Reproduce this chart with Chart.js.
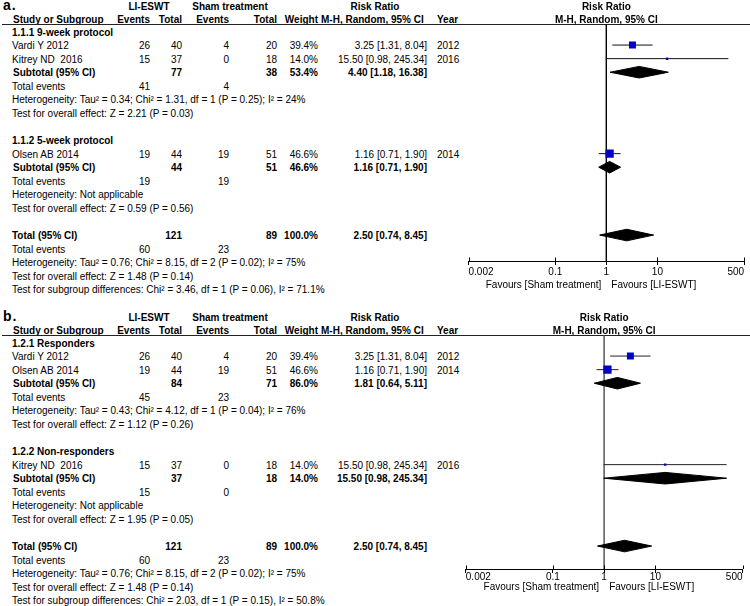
<!DOCTYPE html>
<html>
<head>
<meta charset="utf-8">
<title>Forest plot - LI-ESWT vs sham</title>
<script src="https://cdn.jsdelivr.net/npm/chart.js@4.4.1/dist/chart.umd.min.js"></script>
<style>
  html, body { margin: 0; padding: 0; background: #fff; }
  body {
    width: 750px; height: 606px; position: relative; overflow: hidden;
    font-family: "Liberation Sans", Arial, Helvetica, sans-serif; font-size: 10px; color: #000;
  }
  .panel { position: absolute; left: 0; width: 750px; height: 300px; }
  .c { position: absolute; white-space: pre; line-height: 12px; }
  .b { font-weight: bold; }
  .r { transform: translateX(-100%); }
  .m { transform: translateX(-50%); }
  .tag { font-size: 14px; font-weight: bold; line-height: 14px; letter-spacing: 1px; }
  .rule { position: absolute; left: 2px; width: 748px; height: 1px; background: #222; }
  .panel canvas { position: absolute; }
</style>
</head>
<body>
<div id="panelA" class="panel" style="top:0"></div>
<div id="panelB" class="panel" style="top:311px"></div>
<script>
// ==================== DATA ====================
const studyNames   = ['Vardi Y 2012', 'Kitrey ND  2016', 'Olsen AB 2014'];
const studyYears   = [2012, 2016, 2014];
const eswtEvents   = [26, 15, 19];
const eswtTotals   = [40, 37, 44];
const shamEvents   = [4, 0, 19];
const shamTotals   = [20, 18, 51];
const studyWeights = [39.4, 14.0, 46.6];
const studyRR      = [3.25, 15.50, 1.16];
const studyLow     = [1.31, 0.98, 0.71];
const studyHigh    = [8.04, 245.34, 1.90];

// a. by protocol length
const groupNamesA   = ['1.1.1 9-week protocol', '1.1.2 5-week protocol'];
const groupStudiesA = [[0, 1], [2]];
const subRRA   = [4.40, 1.16];
const subLowA  = [1.18, 0.71];
const subHighA = [16.38, 1.90];
const subHetA  = ['Tau² = 0.34; Chi² = 1.31, df = 1 (P = 0.25); I² = 24%', 'Not applicable'];
const subZA    = ['Z = 2.21 (P = 0.03)', 'Z = 0.59 (P = 0.56)'];
const subDiffA = 'Chi² = 3.46, df = 1 (P = 0.06), I² = 71.1%';

// b. responders / non-responders
const groupNamesB   = ['1.2.1 Responders', '1.2.2 Non-responders'];
const groupStudiesB = [[0, 2], [1]];
const subRRB   = [1.81, 15.50];
const subLowB  = [0.64, 0.98];
const subHighB = [5.11, 245.34];
const subHetB  = ['Tau² = 0.43; Chi² = 4.12, df = 1 (P = 0.04); I² = 76%', 'Not applicable'];
const subZB    = ['Z = 1.12 (P = 0.26)', 'Z = 1.95 (P = 0.05)'];
const subDiffB = 'Chi² = 2.03, df = 1 (P = 0.15), I² = 50.8%';

// overall
const totalRR = 2.50, totalLow = 0.74, totalHigh = 8.45;
const totalHet = 'Tau² = 0.76; Chi² = 8.15, df = 2 (P = 0.02); I² = 75%';
const totalZ = 'Z = 1.48 (P = 0.14)';

const xTicks      = [0.002, 0.1, 1, 10, 500];
const xTickLabels = ['0.002', '0.1', '1', '10', '500'];

// ==================== LAYOUT ====================
const FONT = '"Liberation Sans", Arial, Helvetica, sans-serif';
const RULE_Y = 24.5;      // header rule
const ROW0 = 32.5;        // text centre of first row
const ROWH = 13.57;
const MARK_Y0 = ROW0 - 1; // markers sit a touch above the text
const DIAMOND_H = 5.8 / ROWH;
const CANVAS_X = 440, CANVAS_W = 310;
const BLUE = '#0000cd';
const COL = { name: 12, evE: 150, totE: 182, evS: 229, totS: 277, weight: 318, rr: 427, year: 437 };

const panels = [
  { el: 'panelA', tag: 'a.', groupNames: groupNamesA, groupStudies: groupStudiesA,
    subRR: subRRA, subLow: subLowA, subHigh: subHighA, subHet: subHetA, subZ: subZA, subDiff: subDiffA,
    plotLeft: 468.5, plotRight: 745.7, axisY: 261, tickPad: 1, favY: 285, nullColor: '#000', ciColor: '#111' },
  { el: 'panelB', tag: 'b.', groupNames: groupNamesB, groupStudies: groupStudiesB,
    subRR: subRRB, subLow: subLowB, subHigh: subHighB, subHet: subHetB, subZ: subZB, subDiff: subDiffB,
    plotLeft: 465.8, plotRight: 742.5, axisY: 258, tickPad: -2, favY: 276, nullColor: '#6a6a6a', ciColor: '#222' }
];

const fmtRR = (rr, lo, hi) => `${rr.toFixed(2)} [${lo.toFixed(2)}, ${hi.toFixed(2)}]`;
const pct = w => `${w.toFixed(1)}%`;
const sum = (ids, arr) => ids.reduce((a, i) => a + arr[i], 0);
const rowY = k => ROW0 + k * ROWH;

// tick marks poke up above the axis too
const upTicks = {
  id: 'upTicks',
  afterDraw(chart) {
    const sx = chart.scales.x, ctx = chart.ctx, b = chart.chartArea.bottom;
    ctx.save();
    ctx.strokeStyle = '#000';
    ctx.lineWidth = 1;
    xTicks.forEach(v => {
      const px = Math.round(sx.getPixelForValue(v)) + 0.5;
      ctx.beginPath();
      ctx.moveTo(px, b - 3.5);
      ctx.lineTo(px, b);
      ctx.stroke();
    });
    ctx.restore();
  }
};

function buildPanel(p) {
  const el = document.getElementById(p.el);
  const cell = (txt, x, y, cls) => {
    const s = document.createElement('span');
    s.className = 'c ' + (cls || '');
    s.textContent = txt;
    s.style.left = x + 'px';
    s.style.top = (y - 6) + 'px';
    el.appendChild(s);
    return s;
  };

  // headers
  const tag = cell(p.tag, 3, 5, 'tag');
  tag.style.top = '-2px';
  cell('LI-ESWT', 149, 7, 'b m');
  cell('Sham treatment', 230, 7, 'b m');
  cell('Risk Ratio', 375, 7, 'b m');
  cell('Study or Subgroup', 13, 20, 'b');
  cell('Events', COL.evE, 20, 'b r');
  cell('Total', COL.totE, 20, 'b r');
  cell('Events', COL.evS, 20, 'b r');
  cell('Total', COL.totS, 20, 'b r');
  cell('Weight', COL.weight, 20, 'b r');
  cell('M-H, Random, 95% CI', 321, 20, 'b');
  cell('Year', COL.year, 20, 'b');
  const rule = document.createElement('div');
  rule.className = 'rule';
  rule.style.top = Math.floor(RULE_Y) + 'px';
  el.appendChild(rule);

  const studyMarks = [], diamonds = [];
  let k = 0;
  p.groupStudies.forEach((ids, g) => {
    cell(p.groupNames[g], COL.name, rowY(k), 'b'); k++;
    ids.forEach(i => {
      const y = rowY(k);
      cell(studyNames[i], COL.name, y);
      cell(String(eswtEvents[i]), COL.evE, y, 'r');
      cell(String(eswtTotals[i]), COL.totE, y, 'r');
      cell(String(shamEvents[i]), COL.evS, y, 'r');
      cell(String(shamTotals[i]), COL.totS, y, 'r');
      cell(pct(studyWeights[i]), COL.weight, y, 'r');
      cell(fmtRR(studyRR[i], studyLow[i], studyHigh[i]), COL.rr, y, 'r');
      cell(String(studyYears[i]), COL.year, y);
      studyMarks.push({ i, k });
      k++;
    });
    let y = rowY(k);
    cell('Subtotal (95% CI)', COL.name + 1, y, 'b');
    cell(String(sum(ids, eswtTotals)), COL.totE, y, 'b r');
    cell(String(sum(ids, shamTotals)), COL.totS, y, 'b r');
    cell(pct(sum(ids, studyWeights)), COL.weight, y, 'b r');
    cell(fmtRR(p.subRR[g], p.subLow[g], p.subHigh[g]), COL.rr, y, 'b r');
    diamonds.push({ k, rr: p.subRR[g], lo: p.subLow[g], hi: p.subHigh[g] });
    k++;
    y = rowY(k);
    cell('Total events', COL.name, y);
    cell(String(sum(ids, eswtEvents)), COL.evE, y, 'r');
    cell(String(sum(ids, shamEvents)), COL.evS, y, 'r');
    k++;
    cell('Heterogeneity: ' + p.subHet[g], COL.name, rowY(k)); k++;
    cell('Test for overall effect: ' + p.subZ[g], COL.name, rowY(k)); k++;
    k++; // blank line
  });

  const all = studyNames.map((_, i) => i);
  let y = rowY(k);
  cell('Total (95% CI)', COL.name, y, 'b');
  cell(String(sum(all, eswtTotals)), COL.totE, y, 'b r');
  cell(String(sum(all, shamTotals)), COL.totS, y, 'b r');
  cell(pct(sum(all, studyWeights)), COL.weight, y, 'b r');
  cell(fmtRR(totalRR, totalLow, totalHigh), COL.rr, y, 'b r');
  diamonds.push({ k, rr: totalRR, lo: totalLow, hi: totalHigh });
  k++;
  y = rowY(k);
  cell('Total events', COL.name, y);
  cell(String(sum(all, eswtEvents)), COL.evE, y, 'r');
  cell(String(sum(all, shamEvents)), COL.evS, y, 'r');
  k++;
  cell('Heterogeneity: ' + totalHet, COL.name, rowY(k)); k++;
  cell('Test for overall effect: ' + totalZ, COL.name, rowY(k)); k++;
  cell('Test for subgroup differences: ' + p.subDiff, COL.name, rowY(k));

  // ---------- plot ----------
  const cv = document.createElement('canvas');
  const H = p.axisY + 24;
  cv.width = CANVAS_W; cv.height = H;
  cv.style.left = CANVAS_X + 'px';
  cv.style.top = '0px';
  el.appendChild(cv);

  const yMin = (RULE_Y - MARK_Y0) / ROWH;
  const yMax = (p.axisY - MARK_Y0) / ROWH;

  const datasets = [];
  datasets.push({
    data: studyMarks.map(s => ({ x: studyRR[s.i], y: s.k })),
    pointStyle: 'rect',
    pointRadius: studyMarks.map(s => studyWeights[s.i] / 8),
    backgroundColor: BLUE, borderWidth: 0, showLine: false, order: 0
  });
  studyMarks.forEach(s => datasets.push({
    data: [{ x: studyLow[s.i], y: s.k }, { x: studyHigh[s.i], y: s.k }],
    showLine: true, borderColor: p.ciColor, borderWidth: 1, pointRadius: 0, order: 1
  }));
  diamonds.forEach(d => datasets.push({
    data: [
      { x: d.lo, y: d.k }, { x: d.rr, y: d.k - DIAMOND_H },
      { x: d.hi, y: d.k }, { x: d.rr, y: d.k + DIAMOND_H }, { x: d.lo, y: d.k }
    ],
    showLine: true, fill: 'shape', tension: 0,
    backgroundColor: '#000', borderColor: '#000', borderWidth: 1, pointRadius: 0, order: 1
  }));
  datasets.push({
    data: [{ x: 1, y: yMin }, { x: 1, y: yMax }],
    showLine: true, borderColor: p.nullColor, borderWidth: 1, pointRadius: 0, order: 2
  });

  const chart = new Chart(cv, {
    type: 'scatter',
    data: { datasets },
    plugins: [upTicks],
    options: {
      responsive: false,
      animation: false,
      events: [],
      layout: { padding: { left: p.plotLeft - CANVAS_X, right: CANVAS_X + CANVAS_W - p.plotRight, top: RULE_Y, bottom: 0 } },
      plugins: { legend: { display: false }, tooltip: { enabled: false } },
      scales: {
        x: {
          type: 'logarithmic', min: 0.002, max: 500,
          afterBuildTicks: ax => { ax.ticks = xTicks.map(v => ({ value: v })); },
          afterFit: ax => { ax.height = 24; },
          ticks: {
            callback: (v, i) => xTickLabels[i], align: 'inner', maxRotation: 0, autoSkip: false,
            padding: p.tickPad, color: '#000', font: { family: FONT, size: 10 }
          },
          grid: { drawOnChartArea: false, tickLength: 4, color: '#000' },
          border: { color: '#000', width: 1 }
        },
        y: { type: 'linear', display: false, reverse: true, min: yMin, max: yMax }
      }
    }
  });

  // right-hand headers and favours labels hang off the "1" line
  const x1 = CANVAS_X + chart.scales.x.getPixelForValue(1);
  cell('Risk Ratio', x1, 7, 'b m');
  cell('M-H, Random, 95% CI', x1, 20, 'b m');
  cell('Favours [Sham treatment]', x1 - 5, p.favY, 'r');
  cell('Favours [LI-ESWT]', x1 + 5, p.favY);
}

panels.forEach(buildPanel);
</script>
</body>
</html>
